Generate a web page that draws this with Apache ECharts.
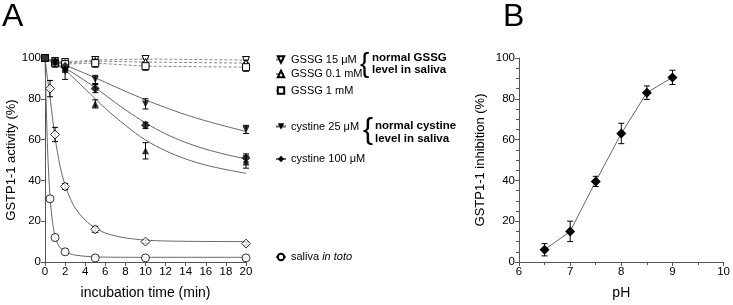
<!DOCTYPE html>
<html>
<head>
<meta charset="utf-8">
<script src="https://cdn.jsdelivr.net/npm/echarts@6/dist/echarts.min.js"></script>
<style>
  html, body { margin: 0; padding: 0; background: #fff; }
  #chart { width: 733px; height: 305px; }
</style>
</head>
<body>
<div id="chart"></div>
<script>
// ---- panel A: measured points ----
const tGssg = [0, 1, 2, 5, 10, 20];
const gssg15 = [100, 98.5, 98, 99, 99.5, 99];
const gssg15Err = [0, 1.5, 1.5, 1.5, 1.5, 1.5];
const gssg01 = [100, 98, 97.5, 98.5, 98, 97.5];
const gssg01Err = [0, 1.5, 1.5, 1.5, 1.5, 1.5];
const gssg1 = [100, 97.5, 97, 97.5, 96, 95.5];
const gssg1Err = [0, 2, 2, 2, 2, 2];

const tCys = [1, 2, 5, 10, 20];
const cys25 = [98, 93.5, 89.5, 77.5, 65];
const cys25Err = [1.5, 4, 2, 2.5, 2];
const cys100 = [98, 96, 85, 67, 51];
const cys100Err = [1.5, 2, 2, 1.5, 2];
const cysUp = [98, 95, 77.5, 54.5, 49];
const cysUpErr = [1.5, 2, 2, 4, 3];

const tSal = [0.5, 1, 2, 5, 10, 20];
const saliva = [31, 12, 5, 2, 2, 2];
const salivaErr = [0, 0, 0, 0, 0, 0];
const diam = [85, 62.5, 37, 16, 10, 9];
const diamErr = [4, 3.5, 1.5, 1.5, 0.8, 0.8];

// ---- panel A: fitted curves ----
const tFit = [0, 1, 2, 3, 4, 5, 6, 8, 10, 12, 14, 16, 18, 20];
const cys25Fit = [100, 98.3, 96.5, 94.5, 92.4, 90.3, 88.1, 83.7, 79.5, 75.7, 72.2, 69.2, 66.5, 64];
const cys100Fit = [100, 97.5, 95, 92, 88.8, 85.5, 81.8, 74.6, 68.2, 62.8, 58.6, 55.3, 52.7, 50.5];
const cysUpFit = [100, 97, 94, 89.5, 84.8, 80, 75.3, 67, 59.8, 54.5, 50.5, 47.5, 45.3, 43.5];
const tSalFit = [0, 0.25, 0.5, 0.75, 1, 1.25, 1.5, 2, 2.5, 3, 4, 5, 6, 8, 10, 20];
const salivaFit = [100, 56, 32, 19.5, 12.5, 9, 7, 5, 4, 3.4, 2.8, 2.5, 2.4, 2.3, 2.3, 2.3];
const tDiamFit = [0, 0.25, 0.5, 0.75, 1, 1.25, 1.5, 2, 2.5, 3, 4, 5, 6, 7, 8, 10, 12, 15, 20];
const diamFit = [100, 90, 81, 70.5, 61, 53.5, 47, 37.5, 31.3, 26.5, 20.5, 16.7, 14.2, 12.8, 11.8, 10.7, 10.3, 10.1, 10];

// ---- panel B ----
const pH = [6.5, 7, 7.5, 8, 8.5, 9];
const inhib = [6, 15, 39.5, 63, 83, 90.5];
const inhibErr = [3, 5, 2.5, 5, 3.3, 3.5];

const FONT = '"Liberation Sans", Arial, sans-serif';
const pts = (t, v) => t.map((x, i) => [x, v[i]]);
const errs = (t, v, e) => t.map((x, i) => [x, v[i] - e[i], v[i] + e[i]]).filter((d, i) => e[i] > 0);

function errRender(params, api) {
  const x = api.value(0);
  const lo = api.coord([x, api.value(1)]);
  const hi = api.coord([x, api.value(2)]);
  const w = 3;
  const st = { stroke: '#000', lineWidth: 1 };
  return {
    type: 'group',
    children: [
      { type: 'line', shape: { x1: lo[0], y1: lo[1], x2: hi[0], y2: hi[1] }, style: st },
      { type: 'line', shape: { x1: lo[0] - w, y1: lo[1], x2: lo[0] + w, y2: lo[1] }, style: st },
      { type: 'line', shape: { x1: hi[0] - w, y1: hi[1], x2: hi[0] + w, y2: hi[1] }, style: st }
    ]
  };
}

const OPEN = { color: '#fff', borderColor: '#000', borderWidth: 1 };
const FILL = { color: '#000', borderColor: '#000', borderWidth: 0 };

function errSeries(data, gi) {
  return {
    type: 'custom', xAxisIndex: gi, yAxisIndex: gi, renderItem: errRender,
    encode: { x: 0, y: [1, 2] }, data: data, z: 2, silent: true
  };
}
function dashed(name, t, v, symbol, rot) {
  return {
    name: name, type: 'line', data: pts(t, v), symbol: symbol, symbolSize: 7, symbolRotate: rot || 0,
    lineStyle: { color: '#888', width: 1, type: [3, 2] }, itemStyle: OPEN, z: 3
  };
}
function fit(name, t, v, symbol, rot, style) {
  return {
    name: name, type: 'line', data: pts(t, v), smooth: 0.3, showSymbol: false,
    symbol: symbol, symbolRotate: rot || 0, symbolSize: 7,
    lineStyle: { color: '#666', width: 1 }, itemStyle: style, z: 1, silent: true
  };
}
function marks(t, v, symbol, rot, style, size) {
  return {
    type: 'scatter', data: pts(t, v), symbol: symbol, symbolRotate: rot || 0,
    symbolSize: size || 7, itemStyle: style, z: 4
  };
}
function leg(name, top) {
  return {
    data: [name], left: 275, top: top, padding: 0, itemWidth: 10, itemHeight: 8, selectedMode: false,
    textStyle: { fontSize: 11, color: '#000', fontFamily: FONT, rich: { i: { fontStyle: 'italic', fontSize: 11, fontFamily: FONT } } },
    formatter: n => n === 'saliva in toto' ? 'saliva {i|in toto}' : n
  };
}

const axisCommon = {
  axisLine: { lineStyle: { color: '#555', width: 1 } },
  axisTick: { length: 4, lineStyle: { color: '#555' } },
  axisLabel: { fontSize: 11.5, color: '#000', fontFamily: FONT, margin: 4 },
  splitLine: { show: false },
  nameTextStyle: { fontSize: 14, color: '#000', fontFamily: FONT }
};

const chart = echarts.init(document.getElementById('chart'));
chart.setOption({
  animation: false,
  backgroundColor: '#fff',
  grid: [
    { left: 45, top: 58, width: 201, height: 204 },
    { left: 519, top: 58, width: 206, height: 204 }
  ],
  xAxis: [
    Object.assign({}, axisCommon, {
      gridIndex: 0, type: 'value', min: 0, max: 20, interval: 2,
      name: 'incubation time (min)', nameLocation: 'middle', nameGap: 24
    }),
    Object.assign({}, axisCommon, {
      gridIndex: 1, type: 'value', min: 6, max: 10, interval: 1,
      minorTick: { show: true, splitNumber: 2, length: 3, lineStyle: { color: '#555' } },
      name: 'pH', nameLocation: 'middle', nameGap: 24
    })
  ],
  yAxis: [
    Object.assign({}, axisCommon, {
      gridIndex: 0, type: 'value', min: 0, max: 100, interval: 20,
      name: 'GSTP1-1 activity (%)', nameLocation: 'middle', nameGap: 27,
      nameTextStyle: { fontSize: 13, color: '#000', fontFamily: FONT }
    }),
    Object.assign({}, axisCommon, {
      gridIndex: 1, type: 'value', min: 0, max: 100, interval: 20,
      minorTick: { show: true, splitNumber: 4, length: 3, lineStyle: { color: '#555' } },
      name: 'GSTP1-1 inhibition (%)', nameLocation: 'middle', nameGap: 32,
      nameTextStyle: { fontSize: 13, color: '#000', fontFamily: FONT }
    })
  ],
  legend: [
    leg('GSSG 15 μM', 54),
    leg('GSSG 0.1 mM', 68.5),
    leg('GSSG 1 mM', 85),
    leg('cystine 25 μM', 121),
    leg('cystine 100 μM', 153.5),
    leg('saliva in toto', 251.5)
  ],
  graphic: [
    { type: 'text', left: 2, top: 1, style: { text: 'A', fontSize: 32, fontFamily: FONT, fill: '#000' } },
    { type: 'text', left: 503, top: 1, style: { text: 'B', fontSize: 32, fontFamily: FONT, fill: '#000' } },
    { type: 'text', left: 360, top: 50, style: { text: '{', fontSize: 28, fontWeight: 'lighter', fontFamily: FONT, fill: '#000' } },
    { type: 'text', left: 372, top: 52, style: { text: 'normal GSSG\nlevel in saliva', fontSize: 11.5, fontWeight: 'bold', lineHeight: 12, fontFamily: FONT, fill: '#000' } },
    { type: 'text', left: 363, top: 116, style: { text: '{', fontSize: 30, fontWeight: 'lighter', fontFamily: FONT, fill: '#000' } },
    { type: 'text', left: 375, top: 119, style: { text: 'normal cystine\nlevel in saliva', fontSize: 11.5, fontWeight: 'bold', lineHeight: 13, fontFamily: FONT, fill: '#000' } }
  ],
  series: [
    // fitted curves (legend entries use their symbols)
    fit('cystine 25 μM', tFit, cys25Fit, 'triangle', 180, FILL),
    fit('cystine 100 μM', tFit, cys100Fit, 'diamond', 0, FILL),
    fit('cysUpFit', tFit, cysUpFit, 'triangle', 0, FILL),
    fit('saliva in toto', tSalFit, salivaFit, 'circle', 0, OPEN),
    fit('diamFit', tDiamFit, diamFit, 'diamond', 0, OPEN),
    // error bars
    errSeries(errs(tGssg, gssg15, gssg15Err), 0),
    errSeries(errs(tGssg, gssg01, gssg01Err), 0),
    errSeries(errs(tGssg, gssg1, gssg1Err), 0),
    errSeries(errs(tCys, cys25, cys25Err), 0),
    errSeries(errs(tCys, cys100, cys100Err), 0),
    errSeries(errs(tCys, cysUp, cysUpErr), 0),
    errSeries(errs(tSal, diam, diamErr), 0),
    errSeries(errs(tSal, saliva, salivaErr), 0),
    // GSSG, connected with dashed lines
    dashed('GSSG 15 μM', tGssg, gssg15, 'triangle', 180),
    dashed('GSSG 0.1 mM', tGssg, gssg01, 'triangle', 0),
    dashed('GSSG 1 mM', tGssg, gssg1, 'rect', 0),
    // measured points
    marks(tCys, cys25, 'triangle', 180, FILL, 7),
    marks(tCys, cys100, 'diamond', 0, FILL, 9),
    marks(tCys, cysUp, 'triangle', 0, FILL, 7),
    marks(tSal, diam, 'diamond', 0, OPEN, 9),
    marks(tSal, saliva, 'circle', 0, OPEN, 8),
    marks([0], [100], 'rect', 0, FILL, 8),
    // panel B
    errSeries(errs(pH, inhib, inhibErr), 1),
    {
      type: 'line', xAxisIndex: 1, yAxisIndex: 1, data: pts(pH, inhib),
      symbol: 'diamond', symbolSize: 10, itemStyle: FILL,
      lineStyle: { color: '#666', width: 1 }, z: 4
    }
  ]
});
</script>
</body>
</html>
